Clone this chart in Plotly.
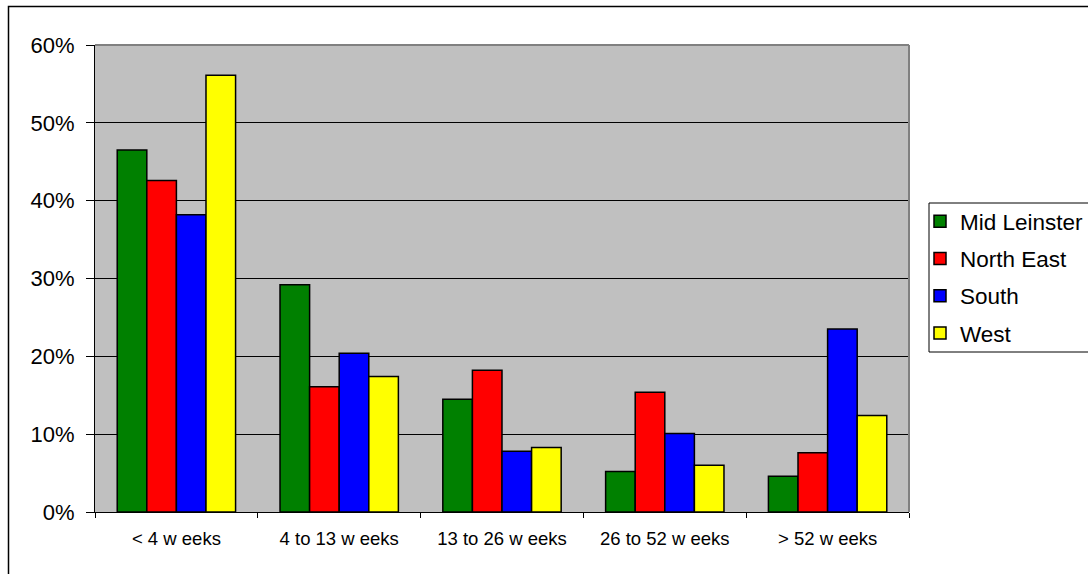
import plotly.graph_objects as go

categories = ["< 4 w eeks", "4 to 13 w eeks", "13 to 26 w eeks", "26 to 52 w eeks", "> 52 w eeks"]
tick_labels = ["&lt; 4 w eeks", "4 to 13 w eeks", "13 to 26 w eeks", "26 to 52 w eeks", "&gt; 52 w eeks"]

mid_leinster = [0.465, 0.292, 0.145, 0.052, 0.046]
north_east = [0.426, 0.161, 0.182, 0.154, 0.076]
south = [0.382, 0.204, 0.078, 0.101, 0.235]
west = [0.561, 0.174, 0.083, 0.060, 0.124]

series_names = ["Mid Leinster", "North East", "South", "West"]
series_values = [mid_leinster, north_east, south, west]
series_colors = ["#008000", "#FF0000", "#0000FF", "#FFFF00"]

FONT = "Arial, 'Liberation Sans', sans-serif"

fig = go.Figure()
for name, vals, col in zip(series_names, series_values, series_colors):
    fig.add_trace(go.Bar(
        x=categories, y=vals, name=name, legendgroup=name,
        marker=dict(color=col, line=dict(color="black", width=1.5)),
    ))

W, H = 1088, 574
L, R, T, B = 95, 909, 45, 512
pw, ph = R - L, B - T

def px(xp):
    return (xp - L) / pw

def py(yp):
    return (B - yp) / ph

fig.update_layout(
    width=W, height=H,
    margin=dict(l=L, r=W - R, t=T, b=H - B, autoexpand=False),
    paper_bgcolor="white",
    plot_bgcolor="#C0C0C0",
    barmode="group",
    bargap=0.273,
    bargroupgap=0,
    font=dict(family=FONT, color="black"),
    showlegend=True,
    legend=dict(
        x=px(920), y=py(277), xanchor="left", yanchor="middle",
        font=dict(size=22.5, family=FONT, color="black"),
        bgcolor="rgba(0,0,0,0)", borderwidth=0,
        traceorder="grouped", tracegroupgap=5,
    ),
    xaxis=dict(
        tickmode="array", tickvals=categories, ticktext=tick_labels,
        tickfont=dict(size=18.5, family=FONT, color="black"),
        showline=True, linecolor="black", linewidth=1,
        ticks="outside", ticklen=5, tickcolor="black", tickson="boundaries",
        ticklabelstandoff=10,
        showgrid=False, zeroline=False,
    ),
    yaxis=dict(
        range=[0, 0.6], dtick=0.1, tickformat=".0%",
        tickfont=dict(size=22, family=FONT, color="black"),
        showline=True, linecolor="black", linewidth=1,
        ticks="outside", ticklen=8, tickcolor="black",
        ticklabelstandoff=7,
        showgrid=True, gridcolor="black", gridwidth=1,
        zeroline=False,
    ),
    shapes=[
        # plot area top/right border (gray)
        dict(type="line", xref="paper", yref="paper", x0=0, x1=1, y0=1, y1=1,
             line=dict(color="#808080", width=2), layer="above"),
        dict(type="line", xref="paper", yref="paper", x0=1, x1=1, y0=0, y1=1,
             line=dict(color="#808080", width=2), layer="above"),
        # legend box
        dict(type="rect", xref="paper", yref="paper",
             x0=px(929), x1=px(1100), y0=py(352), y1=py(203),
             line=dict(color="black", width=1), fillcolor="rgba(0,0,0,0)", layer="above"),
        # outer chart border
        dict(type="rect", xref="paper", yref="paper",
             x0=px(8.5), x1=px(1100), y0=py(590), y1=py(6.5),
             line=dict(color="black", width=1.5), fillcolor="rgba(0,0,0,0)", layer="above"),
    ],
)

fig.write_html(
    "out.html",
    config={"displayModeBar": False},
    post_script="document.body.style.margin='0';document.body.style.overflow='hidden';",
)
